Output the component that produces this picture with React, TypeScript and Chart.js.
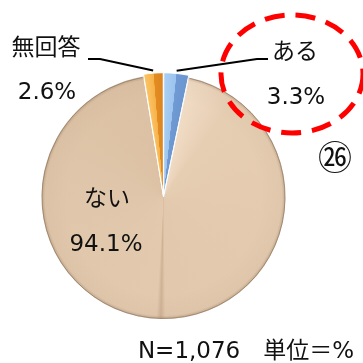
import React, { useEffect, useRef } from "react";
import { Chart, registerables } from "chart.js";

Chart.register(...registerables);

const categories = ["ある", "ない", "無回答"];
const values = [3.3, 94.1, 2.6];
const valueLabels = ["3.3%", "94.1%", "2.6%"];
const noteText = "N=1,076　単位＝%";
const badgeText = "㉖";

const FONT = '"DejaVu Sans", "Noto Sans CJK JP", sans-serif';
const JFONT = '"Noto Sans CJK JP", sans-serif';

export default function App() {
  const ref = useRef<HTMLCanvasElement | null>(null);

  useEffect(() => {
    const canvas = ref.current;
    if (!canvas) return;
    const total = values.reduce((a, b) => a + b, 0);
    const f1 = values[0] / total;
    const f2 = (values[0] + values[1]) / total;

    const bg = (c: any) => {
      const chart = c.chart;
      const area = chart.chartArea;
      if (!area) return "#E0C5A8";
      const cx = (area.left + area.right) / 2;
      const cy = (area.top + area.bottom) / 2;
      const g = chart.ctx.createConicGradient(-Math.PI / 2, cx, cy);
      const m1 = f1 / 2;
      const m2 = (f1 + f2) / 2;
      const m3 = (f2 + 1) / 2;
      g.addColorStop(0, "#A9CFF4");
      g.addColorStop(m1, "#9CC4EE");
      g.addColorStop(m1 + 0.0005, "#6F9AD3");
      g.addColorStop(f1, "#6A95CF");
      g.addColorStop(f1 + 0.0005, "#F0DBC4");
      g.addColorStop(0.1, "#E6CEB3");
      g.addColorStop(m2 - 0.006, "#E2C8AC");
      g.addColorStop(m2, "#CFB295");
      g.addColorStop(m2 + 0.006, "#E3CAAF");
      g.addColorStop(0.8, "#DFC5A9");
      g.addColorStop(f2, "#DCC1A4");
      g.addColorStop(f2 + 0.0005, "#FBC464");
      g.addColorStop(m3, "#F6B24A");
      g.addColorStop(m3 + 0.0005, "#E38C22");
      g.addColorStop(1, "#DB8420");
      return g;
    };

    const deco = {
      id: "deco",
      afterDatasetsDraw(chart: any) {
        const ctx = chart.ctx;
        const meta = chart.getDatasetMeta(0);
        const area = chart.chartArea;
        const cx = (area.left + area.right) / 2;
        const cy = (area.top + area.bottom) / 2;
        const a0: any = meta.data[1];
        const r = a0.outerRadius;
        ctx.save();
        ctx.beginPath();
        ctx.moveTo(cx, cy);
        ctx.arc(cx, cy, r, a0.startAngle, a0.endAngle);
        ctx.closePath();
        ctx.clip();
        const rg = ctx.createRadialGradient(cx, cy, r * 0.8, cx, cy, r);
        rg.addColorStop(0, "rgba(120,90,60,0)");
        rg.addColorStop(0.85, "rgba(120,90,60,0.04)");
        rg.addColorStop(1, "rgba(110,80,55,0.3)");
        ctx.fillStyle = rg;
        ctx.fillRect(cx - r, cy - r, 2 * r, 2 * r);
        ctx.restore();
        ctx.save();
        ctx.beginPath();
        ctx.arc(cx, cy, r - 0.5, a0.startAngle + 0.01, a0.endAngle - 0.01);
        ctx.strokeStyle = "rgba(150,125,100,0.8)";
        ctx.lineWidth = 1;
        ctx.stroke();
        ctx.restore();
      },
      afterDraw(chart: any) {
        const ctx = chart.ctx;
        const meta = chart.getDatasetMeta(0);
        const area = chart.chartArea;
        const cx = (area.left + area.right) / 2;
        const cy = (area.top + area.bottom) / 2;
        const edge = (i: number) => {
          const a: any = meta.data[i];
          const mid = (a.startAngle + a.endAngle) / 2;
          const off = chart.data.datasets[0].offset[i] || 0;
          const rr = a.outerRadius + off;
          return [cx + Math.cos(mid) * rr, cy + Math.sin(mid) * rr];
        };
        ctx.save();
        ctx.strokeStyle = "#000";
        ctx.lineWidth = 2;
        const eb = edge(0);
        ctx.beginPath();
        ctx.moveTo(eb[0], eb[1]);
        ctx.lineTo(257, 59);
        ctx.lineTo(268, 59);
        ctx.stroke();
        const eo = edge(2);
        ctx.beginPath();
        ctx.moveTo(eo[0], eo[1]);
        ctx.lineTo(100, 59);
        ctx.lineTo(88, 59);
        ctx.stroke();

        ctx.fillStyle = "#111";
        ctx.textAlign = "center";
        ctx.textBaseline = "middle";
        ctx.font = `23px ${JFONT}`;
        ctx.fillText(categories[2], 46, 46);
        ctx.fillText(categories[0], 295, 50);
        ctx.fillText(categories[1], 107, 197);
        ctx.font = `23px ${FONT}`;
        ctx.fillText(valueLabels[2], 47, 93);
        ctx.fillText(valueLabels[0], 296, 98);
        ctx.fillText(valueLabels[1], 106, 245);
        ctx.fillText(noteText, 246, 352);
        ctx.font = `34px ${JFONT}`;
        ctx.fillText(badgeText, 335, 157);

        ctx.beginPath();
        ctx.ellipse(292, 74, 71, 59, 0, 0, Math.PI * 2);
        ctx.setLineDash([20, 11]);
        ctx.lineWidth = 5;
        ctx.strokeStyle = "#FF0000";
        ctx.stroke();
        ctx.restore();
      },
    };

    const chart = new Chart(canvas, {
      type: "pie",
      data: {
        labels: categories,
        datasets: [
          {
            data: values,
            backgroundColor: bg,
            borderColor: "#ffffff",
            borderWidth: 1,
            offset: [5, 0, 5],
            radius: 122,
          } as any,
        ],
      },
      options: {
        animation: false,
        responsive: false,
        devicePixelRatio: 1,
        rotation: 0,
        layout: { padding: { left: 41, right: 77, top: 76, bottom: 45 } },
        plugins: {
          legend: { display: false },
          tooltip: { enabled: false },
        },
      },
      plugins: [deco],
    });
    return () => chart.destroy();
  }, []);

  return (
    <div style={{ position: "fixed", left: 0, top: 0, width: 363, height: 363, background: "#fff" }}>
      <canvas ref={ref} width={363} height={363} style={{ display: "block" }} />
    </div>
  );
}
